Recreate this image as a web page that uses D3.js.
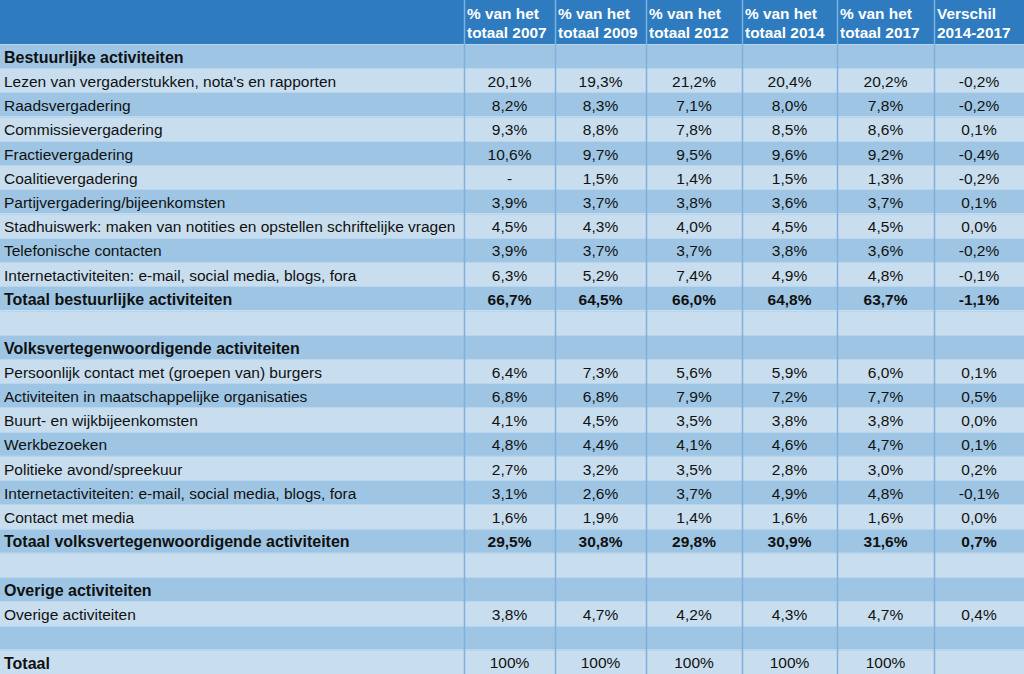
<!DOCTYPE html>
<html>
<head>
<meta charset="utf-8">
<script src="https://cdn.jsdelivr.net/npm/d3@7"></script>
<style>
  html, body { margin: 0; padding: 0; background: #ffffff; }
  svg { display: block; }
  text { font-family: "Liberation Sans", Arial, "DejaVu Sans", sans-serif; }
</style>
</head>
<body>
<svg id="chart" width="1024" height="674"></svg>
<script>
// ---------- DATA ----------
const headerLine1 = ["", "% van het", "% van het", "% van het", "% van het", "% van het", "Verschil"];
const headerLine2 = ["", "totaal 2007", "totaal 2009", "totaal 2012", "totaal 2014", "totaal 2017", "2014-2017"];

const rowLabels = [
  "Bestuurlijke activiteiten",
  "Lezen van vergaderstukken, nota's en rapporten",
  "Raadsvergadering",
  "Commissievergadering",
  "Fractievergadering",
  "Coalitievergadering",
  "Partijvergadering/bijeenkomsten",
  "Stadhuiswerk: maken van notities en opstellen schriftelijke vragen",
  "Telefonische contacten",
  "Internetactiviteiten: e-mail, social media, blogs, fora",
  "Totaal bestuurlijke activiteiten",
  "",
  "Volksvertegenwoordigende activiteiten",
  "Persoonlijk contact met (groepen van) burgers",
  "Activiteiten in maatschappelijke organisaties",
  "Buurt- en wijkbijeenkomsten",
  "Werkbezoeken",
  "Politieke avond/spreekuur",
  "Internetactiviteiten: e-mail, social media, blogs, fora",
  "Contact met media",
  "Totaal volksvertegenwoordigende activiteiten",
  "",
  "Overige activiteiten",
  "Overige activiteiten",
  "",
  "Totaal"
];

// row kinds: section / item / total / blank / grand
const rowKinds = [
  "section","item","item","item","item","item","item","item","item","item","total","blank",
  "section","item","item","item","item","item","item","item","total","blank",
  "section","item","blank","grand"
];

// values in percent; null = empty cell, "-" = no data
const pct2007 = [null,20.1,8.2,9.3,10.6,"-",3.9,4.5,3.9,6.3,66.7,null,null,6.4,6.8,4.1,4.8,2.7,3.1,1.6,29.5,null,null,3.8,null,100];
const pct2009 = [null,19.3,8.3,8.8,9.7,1.5,3.7,4.3,3.7,5.2,64.5,null,null,7.3,6.8,4.5,4.4,3.2,2.6,1.9,30.8,null,null,4.7,null,100];
const pct2012 = [null,21.2,7.1,7.8,9.5,1.4,3.8,4.0,3.7,7.4,66.0,null,null,5.6,7.9,3.5,4.1,3.5,3.7,1.4,29.8,null,null,4.2,null,100];
const pct2014 = [null,20.4,8.0,8.5,9.6,1.5,3.6,4.5,3.8,4.9,64.8,null,null,5.9,7.2,3.8,4.6,2.8,4.9,1.6,30.9,null,null,4.3,null,100];
const pct2017 = [null,20.2,7.8,8.6,9.2,1.3,3.7,4.5,3.6,4.8,63.7,null,null,6.0,7.7,3.8,4.7,3.0,4.8,1.6,31.6,null,null,4.7,null,100];
const diff1417 = [null,-0.2,-0.2,0.1,-0.4,-0.2,0.1,0.0,-0.2,-0.1,-1.1,null,null,0.1,0.5,0.0,0.1,0.2,-0.1,0.0,0.7,null,null,0.4,null,null];

const valueColumns = [pct2007, pct2009, pct2012, pct2014, pct2017, diff1417];

// ---------- LAYOUT ----------
const W = 1024, H = 674, headerH = 44;
const colEdges = [0, 464, 555, 646, 742, 837, 934, 1024];
const colors = {
  header: "#2E7BC0",
  dark: "#9EC6E4",
  light: "#C8DEEF",
  vline: "#7EB1DB",
  hline: "#B7D5ED",
  text: "#111111"
};

const svg = d3.select("#chart");

const y = d3.scaleBand()
  .domain(d3.range(rowLabels.length))
  .range([headerH, H])
  .paddingInner(0).paddingOuter(0);

const x = d3.scaleOrdinal().domain(d3.range(colEdges.length - 1)).range(colEdges.slice(0, -1));
const colW = i => colEdges[i + 1] - colEdges[i];

const fmt = v => {
  if (v === null || v === undefined) return "";
  if (v === "-") return "-";
  if (v === 100) return "100%";
  return d3.format(".1f")(v).replace("−", "-").replace(".", ",") + "%";
};

// header background
svg.append("rect").attr("x", 0).attr("y", 0).attr("width", W).attr("height", headerH)
  .attr("fill", colors.header);

// row backgrounds
svg.append("g").selectAll("rect").data(rowLabels).join("rect")
  .attr("x", 0).attr("y", (d, i) => y(i)).attr("width", W).attr("height", y.bandwidth())
  .attr("fill", (d, i) => i % 2 === 0 ? colors.dark : colors.light);

// horizontal lines
svg.append("g").selectAll("line").data(d3.range(rowLabels.length)).join("line")
  .attr("x1", 0).attr("x2", W)
  .attr("y1", i => Math.round(y(i)) + 0.5).attr("y2", i => Math.round(y(i)) + 0.5)
  .attr("stroke", colors.hline).attr("stroke-width", 1.2);

// vertical lines
svg.append("g").selectAll("line").data(colEdges.slice(1, -1)).join("line")
  .attr("x1", d => d + 0.5).attr("x2", d => d + 0.5)
  .attr("y1", 0).attr("y2", H)
  .attr("stroke", colors.vline).attr("stroke-width", 1.5);

// header text
const hdr = svg.append("g");
d3.range(1, colEdges.length - 1).forEach(c => {
  const t = hdr.append("text")
    .attr("x", x(c) + 3)
    .attr("fill", "#ffffff")
    .attr("font-weight", "bold")
    .attr("font-size", 15.4);
  t.append("tspan").attr("x", x(c) + 3).attr("y", 19).text(headerLine1[c]);
  t.append("tspan").attr("x", x(c) + 3).attr("y", 38).text(headerLine2[c]);
});

// labels
svg.append("g").selectAll("text").data(rowLabels).join("text")
  .attr("x", 4)
  .attr("y", (d, i) => y(i) + y.bandwidth() / 2)
  .attr("dy", "0.42em")
  .attr("font-size", (d, i) => rowKinds[i] === "item" ? 15.5 : 16)
  .attr("font-weight", (d, i) => rowKinds[i] === "item" ? "normal" : "bold")
  .attr("fill", colors.text)
  .text(d => d);

// values
valueColumns.forEach((col, ci) => {
  const c = ci + 1;
  svg.append("g").selectAll("text").data(col).join("text")
    .attr("x", x(c) + colW(c) / 2)
    .attr("y", (d, i) => y(i) + y.bandwidth() / 2)
    .attr("dy", "0.42em")
    .attr("text-anchor", "middle")
    .attr("font-size", 15.5)
    .attr("font-weight", (d, i) => rowKinds[i] === "total" ? "bold" : "normal")
    .attr("fill", colors.text)
    .text(d => fmt(d));
});
</script>
</body>
</html>
